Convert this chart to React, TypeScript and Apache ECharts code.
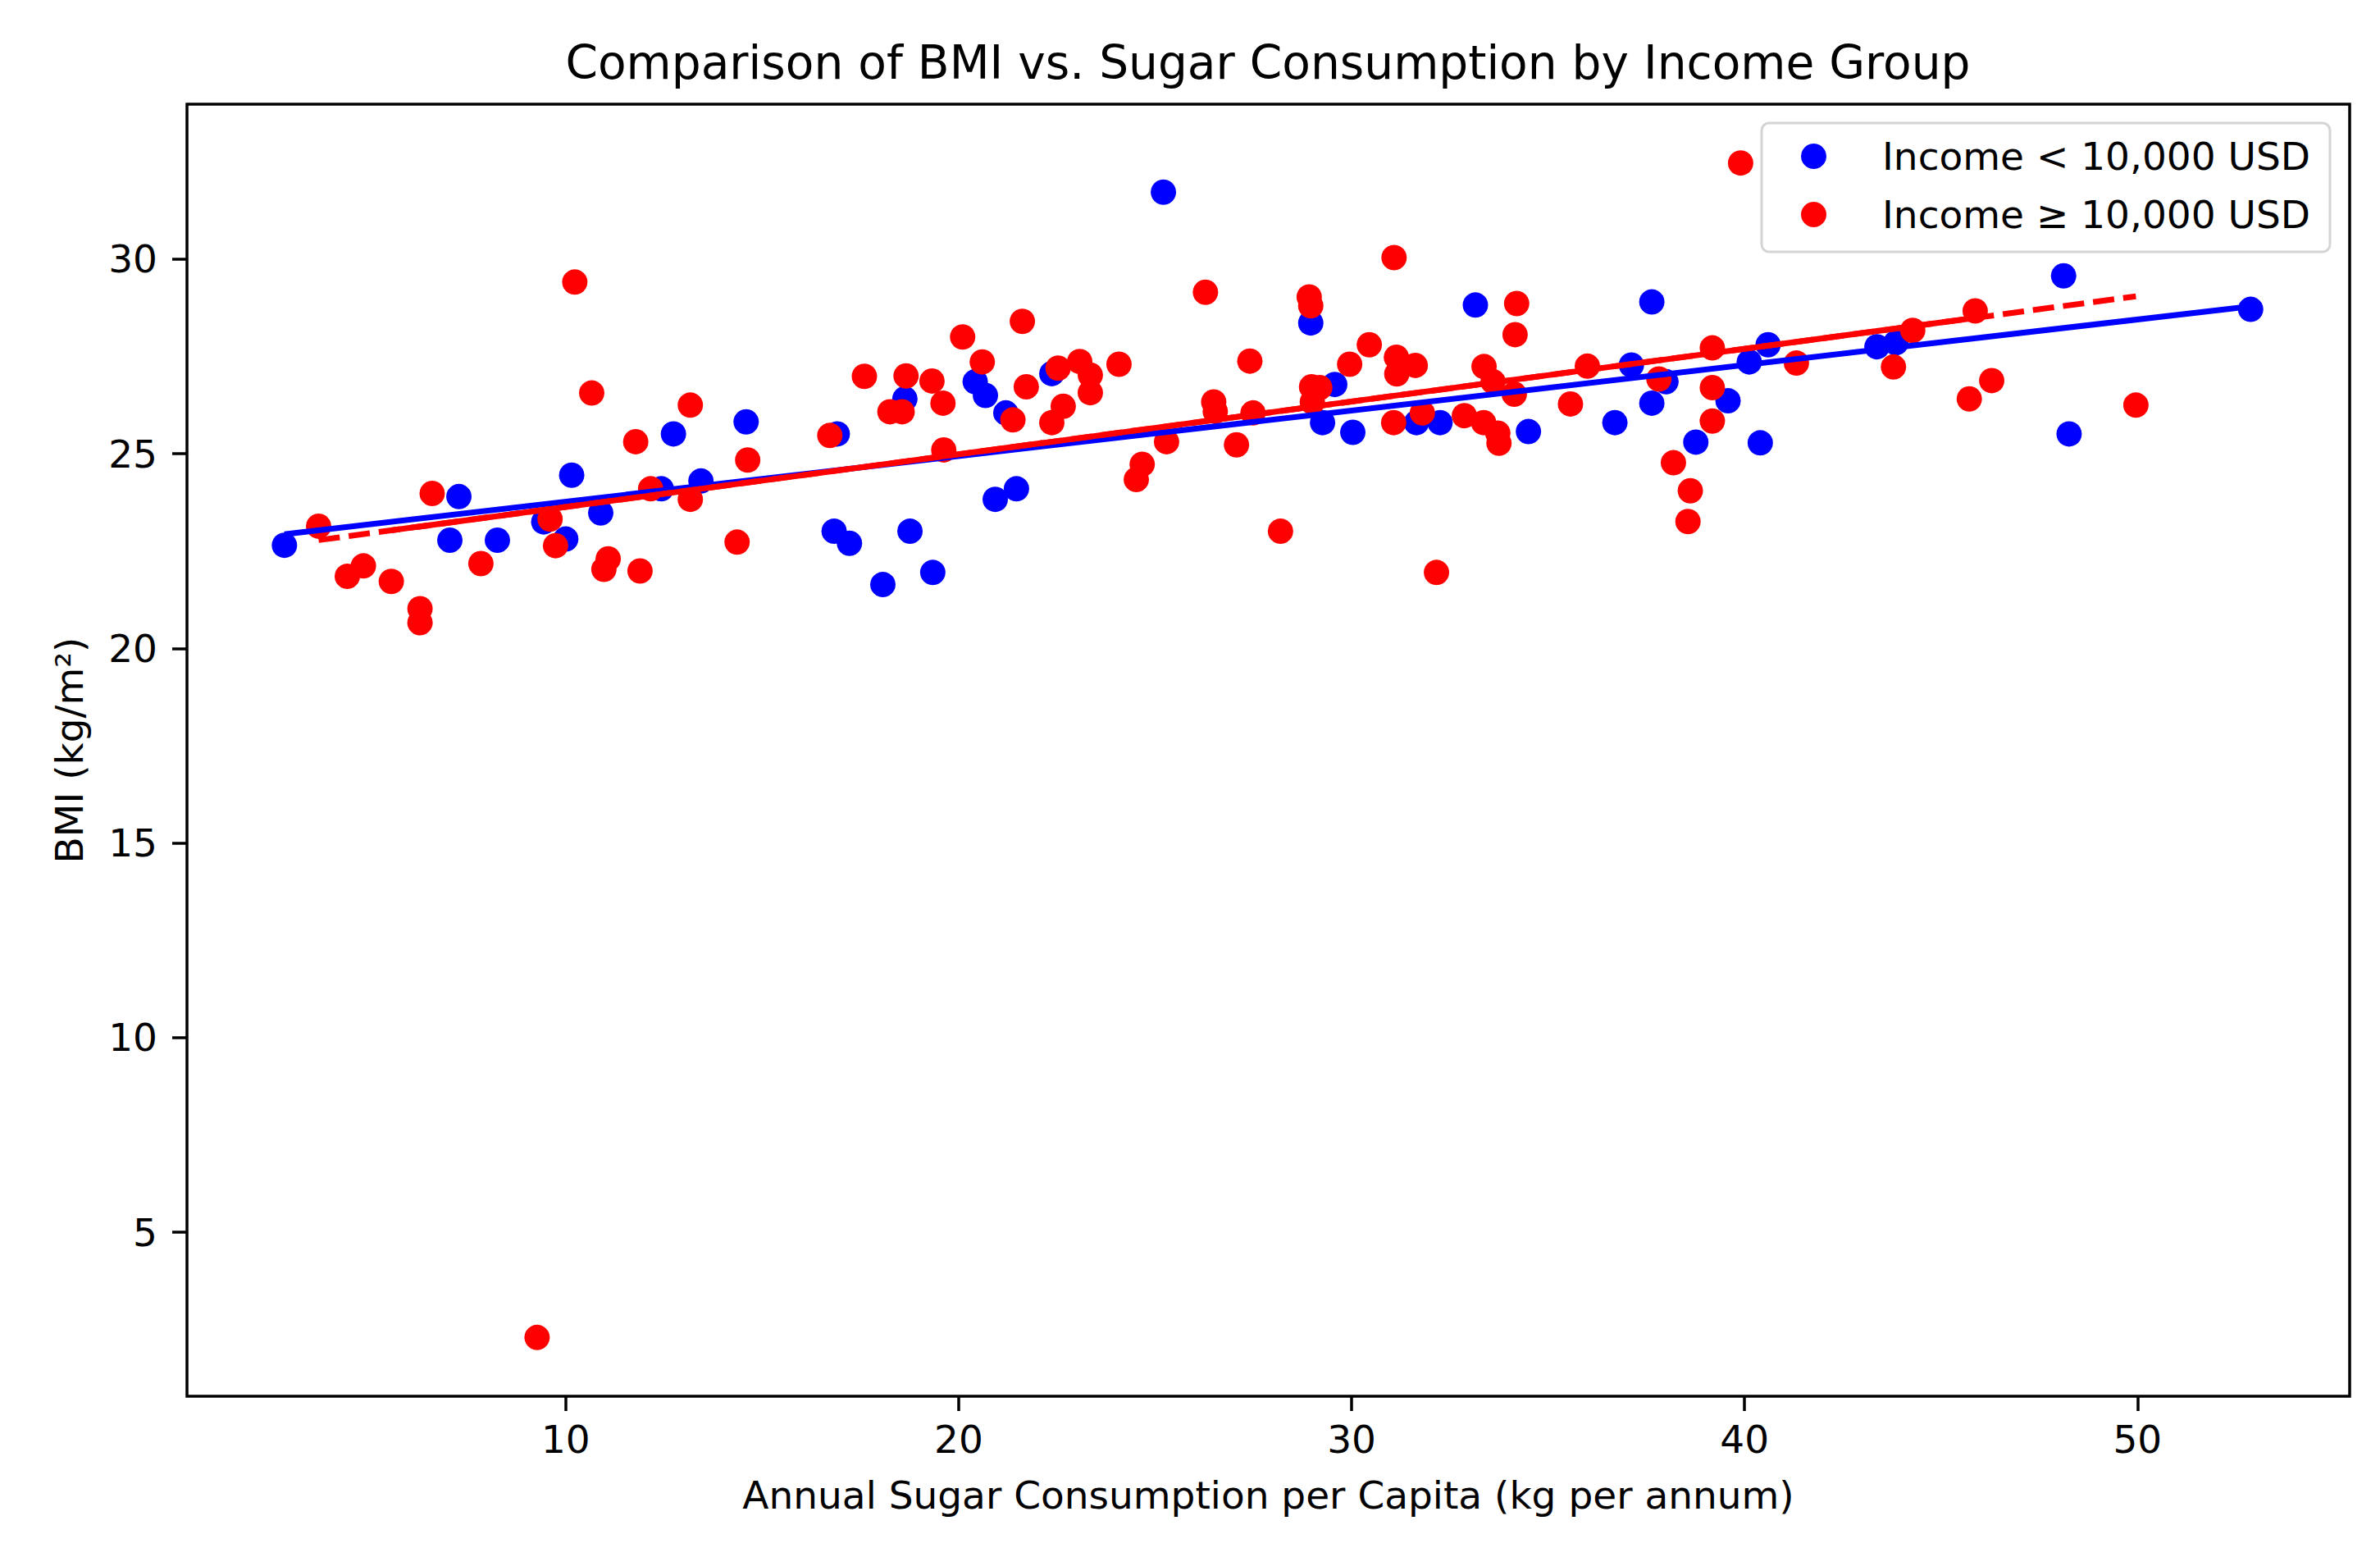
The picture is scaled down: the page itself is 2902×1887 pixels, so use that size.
import React, { useEffect, useRef } from "react";
import * as echarts from "echarts";

// [sugar kg/yr, BMI]
const lowIncomePoints: [number, number][] = [
  [2.84, 22.65], [7.05, 22.78], [7.28, 23.9], [8.26, 22.78], [9.44, 23.25], [10.0, 22.81],
  [10.15, 24.45], [10.89, 23.48], [12.43, 24.1], [12.74, 25.51], [13.44, 24.3], [14.59, 25.82],
  [16.91, 25.51], [16.83, 23.01], [17.22, 22.7], [18.07, 21.64], [18.63, 26.41], [18.76, 23.01],
  [19.34, 21.95], [20.42, 26.85], [20.68, 26.5], [20.93, 23.83], [21.2, 26.05], [21.47, 24.1],
  [22.37, 27.06], [25.21, 31.72], [28.96, 28.36], [29.26, 25.8], [29.57, 26.78], [30.03, 25.55],
  [31.65, 25.8], [32.25, 25.8], [33.15, 28.82], [34.5, 25.57], [36.7, 25.8], [37.12, 27.28],
  [37.64, 28.9], [37.64, 26.3], [38.0, 26.85], [38.76, 25.3], [39.58, 26.36], [40.12, 27.36],
  [40.4, 25.28], [40.6, 27.8], [43.37, 27.75], [43.85, 27.85], [48.12, 29.57], [48.26, 25.51],
  [52.88, 28.71],
];

const highIncomePoints: [number, number][] = [
  [3.71, 23.14], [4.44, 21.85], [4.85, 22.12], [5.56, 21.72], [6.29, 21.02], [6.29, 20.66],
  [6.6, 23.98], [7.84, 22.18], [9.27, 2.3], [9.6, 23.32], [9.74, 22.64], [10.23, 29.41],
  [10.66, 26.56], [10.97, 22.03], [11.08, 22.3], [11.78, 25.31], [11.89, 21.99], [12.16, 24.1],
  [13.17, 26.25], [13.17, 23.83], [14.36, 22.73], [14.63, 24.84], [16.72, 25.47], [17.6, 26.99],
  [18.25, 26.08], [18.56, 26.08], [18.66, 27.0], [19.32, 26.87], [19.6, 26.3], [19.62, 25.1],
  [20.1, 28.0], [20.6, 27.36], [21.38, 25.87], [21.62, 28.4], [21.72, 26.72], [22.37, 25.8],
  [22.53, 27.2], [22.66, 26.22], [23.08, 27.37], [23.35, 27.02], [23.35, 26.57], [24.08, 27.3],
  [24.52, 24.34], [24.67, 24.73], [25.29, 25.31], [26.28, 29.15], [26.49, 26.33], [26.53, 26.09],
  [27.07, 25.23], [27.41, 27.38], [27.49, 26.05], [28.19, 23.01], [28.92, 29.03], [28.96, 28.8],
  [28.98, 26.72], [29.0, 26.33], [29.19, 26.7], [29.95, 27.3], [30.45, 27.8], [31.08, 30.04],
  [31.07, 25.8], [31.14, 27.48], [31.15, 27.05], [31.62, 27.27], [31.8, 26.05], [32.16, 21.95],
  [32.87, 25.98], [33.37, 27.24], [33.6, 26.85], [33.36, 25.8], [33.72, 25.53], [33.75, 25.27],
  [34.14, 26.53], [34.16, 28.06], [34.2, 28.86], [35.57, 26.28], [36.0, 27.25], [37.82, 26.92],
  [38.19, 24.77], [38.62, 24.05], [38.56, 23.26], [39.18, 27.72], [39.18, 26.7], [39.18, 25.84],
  [39.9, 32.47], [41.32, 27.33], [43.79, 27.23], [44.28, 28.17], [45.72, 26.41], [45.87, 28.67],
  [46.29, 26.88], [49.96, 26.25],
];

// fitted trend lines: [intercept, slope]
const lowIncomeFit: [number, number] = [22.6, 0.117];
const highIncomeFit: [number, number] = [22.28, 0.1354];
const highIncomeSolidRange: [number, number] = [5.56, 45.87];

const xTicks = [10, 20, 30, 40, 50];
const yTicks = [5, 10, 15, 20, 25, 30];
const xRange: [number, number] = [0.36, 55.4];
const yRange: [number, number] = [0.79, 33.98];

const lowName = "Income < 10,000 USD";
const highName = "Income ≥ 10,000 USD";

function fitLine(fit: [number, number], x0: number, x1: number): [number, number][] {
  return [
    [x0, fit[0] + fit[1] * x0],
    [x1, fit[0] + fit[1] * x1],
  ];
}

function extentX(pts: [number, number][]): [number, number] {
  let lo = Infinity;
  let hi = -Infinity;
  for (const p of pts) {
    lo = Math.min(lo, p[0]);
    hi = Math.max(hi, p[0]);
  }
  return [lo, hi];
}

const FONT = "DejaVu Sans";

export default function App() {
  const ref = useRef<HTMLDivElement>(null);
  useEffect(() => {
    document.body.style.margin = "0";
    const chart = echarts.init(ref.current!, null, { renderer: "svg" });
    const lowExt = extentX(lowIncomePoints);
    const highExt = extentX(highIncomePoints);
    const option: any = {
      animation: false,
      backgroundColor: "#ffffff",
      textStyle: { fontFamily: FONT },
      title: {
        text: "Comparison of BMI vs. Sugar Consumption by Income Group",
        left: 1546,
        top: 48,
        textAlign: "center",
        padding: 0,
        textStyle: { fontFamily: FONT, fontSize: 56.6, fontWeight: "normal", color: "#000", lineHeight: 56 },
      },
      grid: {
        left: 228,
        right: 37,
        top: 127,
        bottom: 185,
        show: true,
        borderColor: "#000",
        borderWidth: 3.5,
        backgroundColor: "transparent",
      },
      xAxis: {
        type: "value",
        min: xRange[0],
        max: xRange[1],
        name: "Annual Sugar Consumption per Capita (kg per annum)",
        nameLocation: "middle",
        nameGap: 97,
        nameTextStyle: { fontFamily: FONT, fontSize: 47, color: "#000", lineHeight: 47 },
        axisLine: { show: false },
        splitLine: { show: false },
        axisTick: {
          show: true,
          inside: false,
          length: 18,
          lineStyle: { color: "#000", width: 3.5 },
          customValues: xTicks,
        },
        axisLabel: {
          customValues: xTicks,
          margin: 29,
          fontFamily: FONT,
          fontSize: 47,
          lineHeight: 47,
          color: "#000",
        },
      },
      yAxis: {
        type: "value",
        min: yRange[0],
        max: yRange[1],
        name: "BMI (kg/m²)",
        nameLocation: "middle",
        nameGap: 120,
        nameTextStyle: { fontFamily: FONT, fontSize: 47, color: "#000", lineHeight: 47 },
        axisLine: { show: false },
        splitLine: { show: false },
        axisTick: {
          show: true,
          inside: false,
          length: 18,
          lineStyle: { color: "#000", width: 3.5 },
          customValues: yTicks,
        },
        axisLabel: {
          customValues: yTicks,
          margin: 36,
          fontFamily: FONT,
          fontSize: 47,
          lineHeight: 47,
          color: "#000",
        },
      },
      legend: {
        data: [lowName, highName],
        orient: "vertical",
        left: 2196,
        top: 167,
        padding: 0,
        itemWidth: 31,
        itemHeight: 31,
        itemGap: 24,
        icon: "circle",
        selectedMode: false,
        z: 8,
        textStyle: {
          fontFamily: FONT,
          fontSize: 47,
          lineHeight: 47,
          color: "#000",
          padding: [0, 0, 0, 63],
        },
      },
      graphic: [
        {
          type: "rect",
          z: 7,
          silent: true,
          shape: { x: 2148, y: 150, width: 693, height: 157, r: 9 },
          style: { fill: "rgba(255,255,255,0.8)", stroke: "#d4d4d4", lineWidth: 3 },
        },
      ],
      series: [
        {
          type: "scatter",
          name: lowName,
          data: lowIncomePoints,
          symbol: "circle",
          symbolSize: 31,
          itemStyle: { color: "#0000ff", opacity: 1 },
          silent: true,
        },
        {
          type: "scatter",
          name: highName,
          data: highIncomePoints,
          symbol: "circle",
          symbolSize: 31,
          itemStyle: { color: "#ff0000", opacity: 1 },
          silent: true,
        },
        {
          type: "line",
          name: "low fit",
          data: fitLine(lowIncomeFit, lowExt[0], lowExt[1]),
          symbol: "none",
          showSymbol: false,
          silent: true,
          lineStyle: { color: "#0000ff", width: 7 },
        },
        {
          type: "line",
          name: "high fit dashed",
          data: fitLine(highIncomeFit, highExt[0], highExt[1]),
          symbol: "none",
          showSymbol: false,
          silent: true,
          lineStyle: { color: "#ff0000", width: 7, type: [26, 11] },
        },
        {
          type: "line",
          name: "high fit",
          data: fitLine(highIncomeFit, highIncomeSolidRange[0], highIncomeSolidRange[1]),
          symbol: "none",
          showSymbol: false,
          silent: true,
          lineStyle: { color: "#ff0000", width: 7 },
        },
      ],
    };
    chart.setOption(option);
    return () => chart.dispose();
  }, []);
  return <div ref={ref} style={{ width: 2902, height: 1887 }} />;
}
